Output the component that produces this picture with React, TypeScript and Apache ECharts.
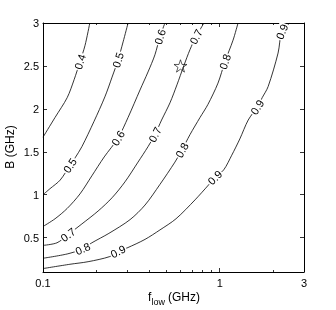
import React, { useEffect, useRef } from 'react';
import * as echarts from 'echarts';

const levels = ['0.4', '0.5', '0.6', '0.7', '0.8', '0.9'];

const contour04 = [[0.1, 1.67], [0.117, 1.9], [0.137, 2.13], [0.15, 2.34], [0.162, 2.55], [0.173, 2.74], [0.184, 3.0]];
const contour05 = [[0.303, 3.0], [0.284, 2.78], [0.266, 2.57], [0.246, 2.37], [0.224, 2.14], [0.194, 1.85], [0.166, 1.56], [0.152, 1.43], [0.142, 1.34], [0.125, 1.17], [0.1095, 1.07], [0.1, 1.0]];
const contour06 = [[0.49, 3.0], [0.459, 2.84], [0.43, 2.63], [0.393, 2.43], [0.354, 2.22], [0.303, 1.9], [0.266, 1.66], [0.222, 1.44], [0.189, 1.22], [0.162, 1.01], [0.137, 0.84], [0.117, 0.72], [0.1, 0.63]];
const contour07 = [[0.815, 3.0], [0.734, 2.84], [0.679, 2.69], [0.626, 2.5], [0.573, 2.28], [0.523, 2.07], [0.469, 1.87], [0.43, 1.7], [0.393, 1.56], [0.345, 1.38], [0.291, 1.15], [0.246, 0.965], [0.205, 0.81], [0.166, 0.66], [0.1385, 0.535], [0.12, 0.44], [0.1, 0.41]];
const contour08 = [[1.27, 3.0], [1.19, 2.8], [1.071, 2.55], [0.978, 2.3], [0.857, 2.05], [0.774, 1.9], [0.679, 1.7], [0.611, 1.52], [0.558, 1.38], [0.459, 1.12], [0.378, 0.88], [0.311, 0.71], [0.236, 0.55], [0.189, 0.44], [0.168, 0.37], [0.137, 0.31], [0.1, 0.26]];
const contour09 = [[2.5, 3.0], [2.25, 2.9], [2.14, 2.65], [1.88, 2.26], [1.74, 2.13], [1.63, 2.02], [1.45, 1.87], [1.3, 1.65], [1.17, 1.46], [1.054, 1.29], [0.94, 1.2], [0.87, 1.12], [0.725, 0.94], [0.566, 0.72], [0.459, 0.59], [0.378, 0.48], [0.299, 0.38], [0.266, 0.34], [0.239, 0.28], [0.18, 0.22], [0.142, 0.19], [0.1, 0.14]];

const contours = [contour04, contour05, contour06, contour07, contour08, contour09];
const labelIndices = [[4], [2, 8], [1, 6], [1, 7, 14], [2, 7, 14], [1, 5, 10, 17]];

const starPoint = [0.6, 2.5];

const xTickLabels = [0.1, 1, 3];
const xMajorTicks = [1];
const xMinorTicks = [0.2, 0.3, 0.4, 0.5, 0.6, 0.7, 0.8, 0.9, 2];
const yTicks = [0.5, 1, 1.5, 2, 2.5, 3];

const FONT = '"Liberation Sans", Arial, Helvetica, sans-serif';
const STAR = 'path://M50,0 L61.8,36.2 L100,36.2 L69.1,58.8 L80.9,95.1 L50,72.7 L19.1,95.1 L30.9,58.8 L0,36.2 L38.2,36.2 Z';

export default function App() {
  const ref = useRef<HTMLDivElement>(null);
  useEffect(() => {
    const chart = echarts.init(ref.current!, null, { renderer: 'svg' });
    const axisLineStyle = { color: '#000', width: 1 };
    const xAxisDef = (position: string, ticks: number[], len: number, showLine: boolean, showLabel: boolean) => ({
      type: 'log',
      logBase: 10,
      min: 0.1,
      max: 3,
      position,
      gridIndex: 0,
      axisLine: { show: showLine, onZero: false, lineStyle: axisLineStyle },
      axisTick: { show: true, inside: true, length: len, customValues: ticks, lineStyle: { color: '#000', width: 0.8 } },
      axisLabel: showLabel
        ? { show: true, customValues: xTickLabels, formatter: (v: number) => String(v), color: '#000', fontSize: 11, fontFamily: FONT, margin: 5 }
        : { show: false },
      splitLine: { show: false },
      minorTick: { show: false },
    });
    const yAxisDef = (position: string, showLabel: boolean) => ({
      type: 'value',
      min: 0.1,
      max: 3,
      position,
      axisLine: { show: true, onZero: false, lineStyle: axisLineStyle },
      axisTick: { show: true, inside: true, length: 4, customValues: yTicks, lineStyle: { color: '#000', width: 0.8 } },
      axisLabel: showLabel
        ? { show: true, customValues: yTicks, formatter: (v: number) => String(v), color: '#000', fontSize: 11, fontFamily: FONT, margin: 4 }
        : { show: false },
      splitLine: { show: false },
    });

    const lineSeries = contours.map((pts, i) => ({
      type: 'line',
      name: levels[i],
      xAxisIndex: 0,
      yAxisIndex: 0,
      data: pts,
      showSymbol: false,
      symbol: 'none',
      smooth: 0.3,
      lineStyle: { color: '#000', width: 0.8 },
      itemStyle: { color: '#000' },
      z: 2,
      silent: true,
    }));

    const starSeries = {
      type: 'scatter',
      xAxisIndex: 0,
      yAxisIndex: 0,
      data: [starPoint],
      symbol: STAR,
      symbolSize: 13,
      symbolKeepAspect: true,
      itemStyle: { color: 'rgba(0,0,0,0)', borderColor: '#000', borderWidth: 0.8 },
      z: 6,
      silent: true,
    };

    const titleGraphics = [
      {
        type: 'text',
        x: 10,
        y: 147,
        rotation: Math.PI / 2,
        style: { text: 'B (GHz)', fill: '#000', font: `12px ${FONT}`, align: 'center', verticalAlign: 'middle' },
      },
      {
        type: 'text',
        x: 148,
        y: 297,
        style: { text: 'f', fill: '#000', font: `12px ${FONT}`, align: 'left', verticalAlign: 'middle' },
      },
      {
        type: 'text',
        x: 151.5,
        y: 302,
        style: { text: 'low', fill: '#000', font: `9px ${FONT}`, align: 'left', verticalAlign: 'middle' },
      },
      {
        type: 'text',
        x: 168,
        y: 297,
        style: { text: '(GHz)', fill: '#000', font: `12px ${FONT}`, align: 'left', verticalAlign: 'middle' },
      },
    ];

    const baseOption: any = {
      animation: false,
      backgroundColor: '#fff',
      color: ['#000'],
      grid: { left: 43, right: 32, top: 23, bottom: 38, containLabel: false },
      xAxis: [
        xAxisDef('bottom', xMajorTicks, 4, true, true),
        xAxisDef('bottom', xMinorTicks, 2, false, false),
        xAxisDef('top', xMajorTicks, 4, true, false),
        xAxisDef('top', xMinorTicks, 2, false, false),
      ],
      yAxis: [yAxisDef('left', true), yAxisDef('right', false)],
      series: [...lineSeries, starSeries],
      graphic: titleGraphics,
    };
    chart.setOption(baseOption);

    const labelGraphics: any[] = [];
    contours.forEach((pts, ci) => {
      labelIndices[ci].forEach((i) => {
        const p = chart.convertToPixel({ xAxisIndex: 0, yAxisIndex: 0 }, pts[i]) as number[];
        const a = chart.convertToPixel({ xAxisIndex: 0, yAxisIndex: 0 }, pts[i - 1]) as number[];
        const b = chart.convertToPixel({ xAxisIndex: 0, yAxisIndex: 0 }, pts[i + 1]) as number[];
        let ang = Math.atan2(-(b[1] - a[1]), b[0] - a[0]);
        if (ang > Math.PI / 2) ang -= Math.PI;
        if (ang < -Math.PI / 2) ang += Math.PI;
        labelGraphics.push({
          type: 'text',
          x: p[0],
          y: p[1],
          rotation: ang,
          z: 10,
          silent: true,
          style: {
            text: levels[ci],
            fill: '#000',
            font: `11px ${FONT}`,
            align: 'center',
            verticalAlign: 'middle',
            backgroundColor: '#fff',
            padding: [0, 1],
          },
        });
      });
    });

    chart.setOption({ ...baseOption, graphic: [...titleGraphics, ...labelGraphics] }, true);

    return () => chart.dispose();
  }, []);

  return (
    <div
      ref={ref}
      style={{ position: 'fixed', left: 0, top: 0, width: 336, height: 310, filter: 'grayscale(100%)' }}
    />
  );
}
